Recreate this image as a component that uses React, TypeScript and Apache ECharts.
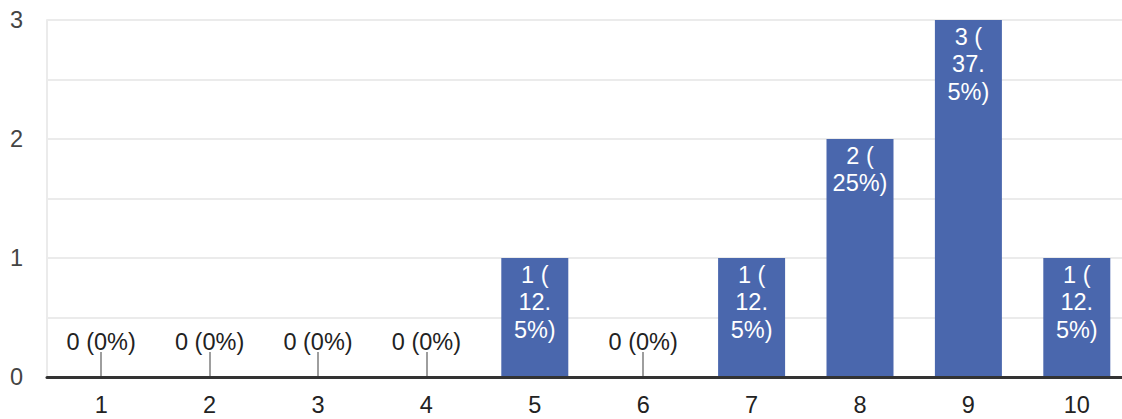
import React, { useEffect, useRef } from "react";
import * as echarts from "echarts";

const categories = ["1", "2", "3", "4", "5", "6", "7", "8", "9", "10"];
const counts = [0, 0, 0, 0, 1, 0, 1, 2, 3, 1];
const total = 8;
const yTicks = [0, 1, 2, 3];

const FONT = "'Liberation Sans', Arial, sans-serif";
const FS = 23.5;

function pctText(v: number): string {
  const p = (v / total) * 100;
  return String(Math.round(p * 10) / 10);
}

function insideLabel(v: number): string {
  const p = pctText(v);
  if (p.includes(".")) {
    const [a, b] = p.split(".");
    return `${v} (\n${a}.\n${b}%)`;
  }
  return `${v} (\n${p}%)`;
}

export default function App() {
  const ref = useRef<HTMLDivElement>(null);
  useEffect(() => {
    if (!ref.current) return;
    const chart = echarts.init(ref.current, undefined, { renderer: "svg" });
    const data = counts.map((v) =>
      v === 0
        ? {
            value: v,
            label: {
              show: true,
              position: "top",
              distance: 22,
              color: "#222",
              fontSize: FS,
              lineHeight: 27,
              fontFamily: FONT,
              formatter: () => `${v} (${pctText(v)}%)`,
            },
          }
        : {
            value: v,
            label: {
              show: true,
              position: "insideTop",
              distance: 3,
              color: "#fff",
              fontSize: FS,
              lineHeight: 27.5,
              fontFamily: FONT,
              align: "center",
              formatter: () => insideLabel(v),
            },
          }
    );
    chart.setOption({
      animation: false,
      grid: { left: 47, right: 0, top: 20, bottom: 42, containLabel: false },
      xAxis: [
        {
          type: "category",
          data: categories,
          position: "bottom",
          z: 0,
          axisLine: { show: false },
          axisTick: {
            show: true,
            inside: true,
            length: 25,
            alignWithLabel: true,
            lineStyle: { color: "#9e9e9e", width: 2 },
          },
          axisLabel: { show: false },
          splitLine: { show: false },
        },
        {
          type: "category",
          data: categories,
          position: "bottom",
          z: 3,
          axisLine: { show: true, lineStyle: { color: "#333", width: 3 } },
          axisTick: { show: false },
          axisLabel: {
            show: true,
            color: "#222",
            fontSize: FS,
            fontFamily: FONT,
            margin: 16,
          },
          splitLine: { show: false },
        },
      ],
      yAxis: {
        type: "value",
        min: 0,
        max: 3,
        interval: 0.5,
        axisLine: { show: true, lineStyle: { color: "#ebebeb", width: 2 } },
        axisTick: { show: false },
        splitLine: { show: true, lineStyle: { color: "#ebebeb", width: 2 } },
        axisLabel: {
          color: "#444",
          fontSize: FS,
          fontFamily: FONT,
          margin: 24,
          formatter: (v: number) => (yTicks.includes(v) ? String(v) : ""),
        },
      },
      series: [
        {
          type: "bar",
          xAxisIndex: 0,
          data,
          barWidth: 67,
          itemStyle: { color: "#4a67ad" },
        },
      ],
    });
    return () => chart.dispose();
  }, []);
  return (
    <div
      style={{
        position: "fixed",
        left: 0,
        top: 0,
        width: 1122,
        height: 419,
        overflow: "hidden",
        background: "#fff",
      }}
    >
      <div ref={ref} style={{ width: 1131, height: 419 }} />
    </div>
  );
}
